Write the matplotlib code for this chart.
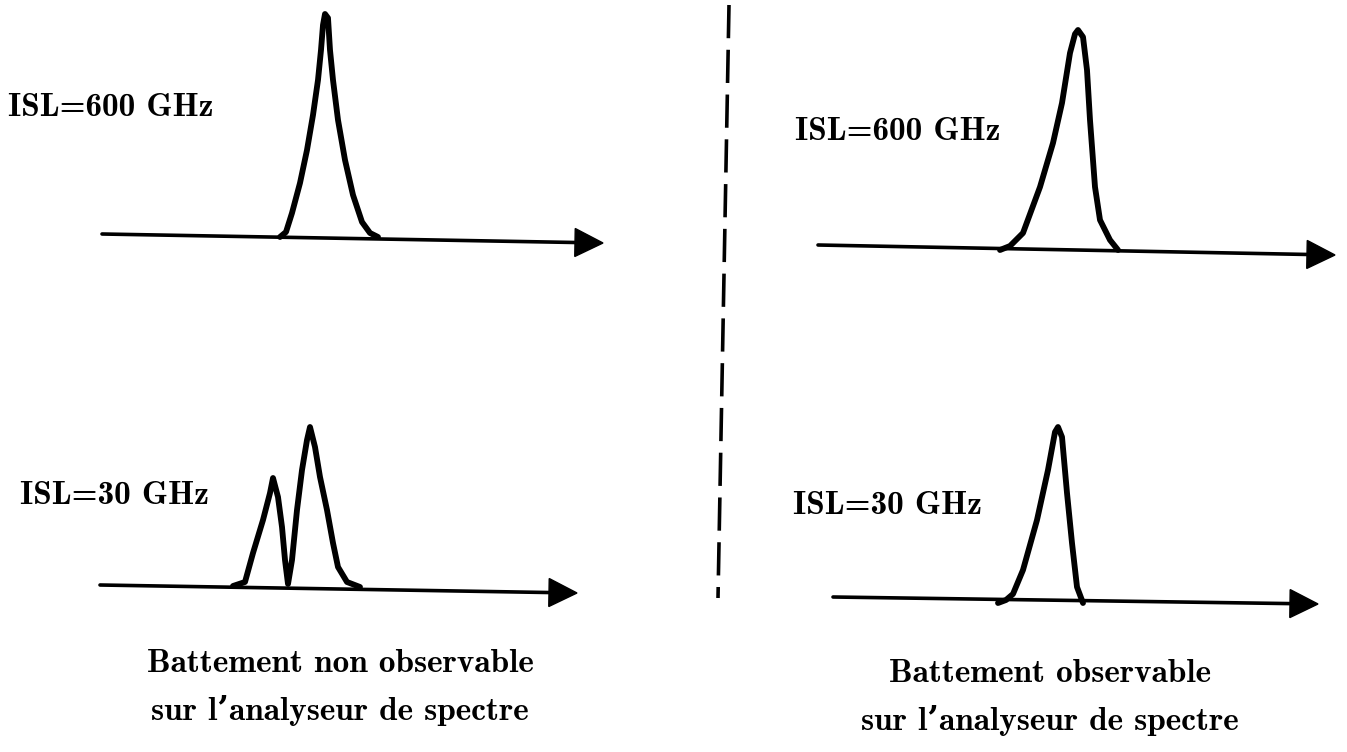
import matplotlib.pyplot as plt
from matplotlib.patches import Polygon

# traced outlines of the spectral lines, in sheet pixels (y grows downward)
peak_600_left_x = [280, 286, 292, 300, 307, 313, 318, 321, 323, 325, 328, 330, 333, 338, 345, 353, 362, 370, 378]
peak_600_left_y = [237, 232, 213, 183, 150, 115, 80, 50, 25, 14, 18, 50, 80, 120, 160, 195, 222, 233, 237]

peak_30_left_x = [233, 245, 253, 263, 270, 273, 278, 282, 285, 288, 292, 297, 302, 307, 310, 315, 320, 327, 333, 338, 347, 360]
peak_30_left_y = [586, 582, 553, 520, 493, 478, 497, 527, 560, 584, 560, 510, 470, 440, 427, 447, 477, 510, 543, 567, 582, 587]

peak_600_right_x = [1000, 1010, 1023, 1040, 1053, 1062, 1070, 1075, 1078, 1083, 1087, 1090, 1095, 1100, 1110, 1118]
peak_600_right_y = [250, 246, 233, 187, 143, 103, 53, 34, 30, 37, 70, 120, 187, 220, 240, 250]

peak_30_right_x = [998, 1006, 1013, 1023, 1037, 1048, 1055, 1058, 1062, 1067, 1072, 1077, 1083]
peak_30_right_y = [603, 600, 594, 570, 520, 470, 432, 427, 437, 493, 543, 587, 603]

# frequency axes: (x0, y0, x_tip, y_tip)
axes_lines = [(102, 234, 603, 243), (100, 585, 577, 593), (818, 245, 1335, 255), (833, 597, 1318, 604)]

isl_labels = ["ISL=600 GHz", "ISL=30 GHz", "ISL=600 GHz", "ISL=30 GHz"]
isl_pos = [(8, 108), (20, 495), (795, 131), (793, 505)]

captions = [["Battement non observable", "sur l\u2019analyseur de spectre"],
            ["Battement observable", "sur l\u2019analyseur de spectre"]]
caption_pos = [(340, 663, 711), (1050, 673, 720)]

fig = plt.figure(figsize=(13.47, 7.52), dpi=100)
ax = fig.add_axes([0, 0, 1, 1])
ax.set_xlim(0, 1347)
ax.set_ylim(752, 0)
ax.axis("off")

ink = "black"
font = dict(family=["cmb10", "DejaVu Serif"], fontweight="bold", color=ink)

for x0, y0, x1, y1 in axes_lines:
    head = 28
    dx, dy = x1 - x0, y1 - y0
    length = (dx ** 2 + dy ** 2) ** 0.5
    ux, uy = dx / length, dy / length
    bx, by = x1 - ux * head, y1 - uy * head
    ax.plot([x0, bx], [y0, by], color=ink, lw=2.6, solid_capstyle="round")
    ax.add_patch(Polygon([(x1, y1), (bx - uy * 14, by + ux * 14), (bx + uy * 14, by - ux * 14)],
                         closed=True, color=ink))

for xs, ys in [(peak_600_left_x, peak_600_left_y), (peak_30_left_x, peak_30_left_y),
               (peak_600_right_x, peak_600_right_y), (peak_30_right_x, peak_30_right_y)]:
    ax.plot(xs, ys, color=ink, lw=4.2, solid_joinstyle="round", solid_capstyle="round")

# dashed separator between the two cases
ax.plot([729, 718], [5, 598], color=ink, lw=2.6, dashes=(9.2, 3.2))

for text, (x, y) in zip(isl_labels, isl_pos):
    ax.text(x, y, text, fontsize=24, ha="left", va="center", **font)

for lines, (x, y1, y2) in zip(captions, caption_pos):
    ax.text(x, y1, lines[0], fontsize=24, ha="center", va="center", **font)
    ax.text(x, y2, lines[1], fontsize=24, ha="center", va="center", **font)

fig.savefig("out.png", dpi=100, facecolor="white")
